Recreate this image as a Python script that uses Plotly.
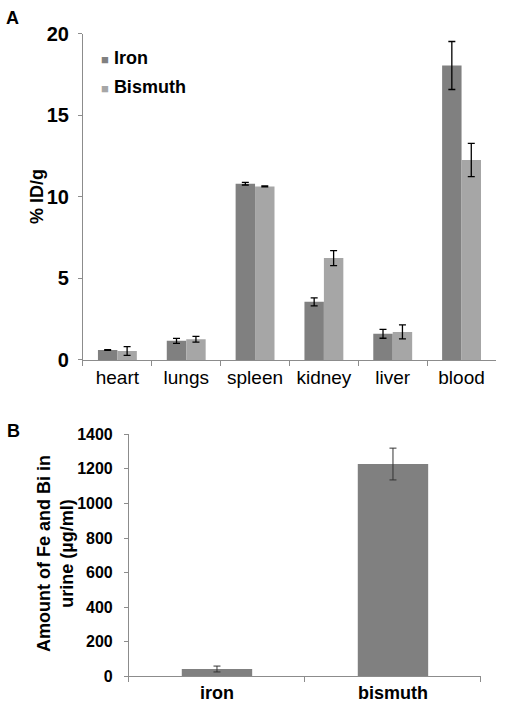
import plotly.graph_objects as go

# Panel A data
organs = ["heart", "lungs", "spleen", "kidney", "liver", "blood"]
iron_vals = [0.61, 1.17, 10.8, 3.56, 1.6, 18.04]
iron_err = [0.02, 0.15, 0.08, 0.25, 0.27, 1.47]
bismuth_vals = [0.55, 1.27, 10.63, 6.24, 1.72, 12.25]
bismuth_err = [0.27, 0.18, 0.03, 0.46, 0.43, 1.02]
a_yticks = [0, 5, 10, 15, 20]
series_names = ["Iron", "Bismuth"]

# Panel B data
urine_cats = ["iron", "bismuth"]
urine_vals = [42, 1228]
urine_err = [17, 92]
b_yticks = [0, 200, 400, 600, 800, 1000, 1200, 1400]

IRON_C = "#808080"
BI_C = "#a6a6a6"
AXC = "#8c8c8c"
FONT = "Arial, Liberation Sans, sans-serif"

fig = go.Figure()

fig.add_trace(go.Bar(
    x=organs, y=iron_vals, name=series_names[0], marker_color=IRON_C, marker_line_width=0,
    error_y=dict(type="data", array=iron_err, color="black", thickness=1.3, width=3.5),
    xaxis="x", yaxis="y", showlegend=False,
))
fig.add_trace(go.Bar(
    x=organs, y=bismuth_vals, name=series_names[1], marker_color=BI_C, marker_line_width=0,
    error_y=dict(type="data", array=bismuth_err, color="black", thickness=1.3, width=3.5),
    xaxis="x", yaxis="y", showlegend=False,
))
fig.add_trace(go.Bar(
    x=urine_cats, y=urine_vals, marker_color=IRON_C, marker_line_width=0, showlegend=False,
    width=0.4,
    error_y=dict(type="data", array=urine_err, color="#333333", thickness=1, width=3.5),
    xaxis="x2", yaxis="y2",
))

common = dict(showline=True, linecolor=AXC, linewidth=1, ticks="outside", tickcolor=AXC,
              showgrid=False, zeroline=False, automargin=False)

fig.update_layout(
    width=510, height=710,
    margin=dict(l=0, r=0, t=0, b=0, autoexpand=False),
    paper_bgcolor="white", plot_bgcolor="white",
    barmode="group", bargap=0.435, bargroupgap=0,
    font=dict(family=FONT, color="black"),
    showlegend=False,
    xaxis=dict(domain=[0.1627, 0.9725], anchor="y", tickson="boundaries", ticklen=5,
               tickfont=dict(size=19, family=FONT), **common),
    yaxis=dict(domain=[0.4930, 0.9528], anchor="x", range=[0, 20], tickvals=a_yticks,
               ticktext=[f"<b>{v}</b>" for v in a_yticks], ticklen=4,
               tickfont=dict(size=20, family=FONT), ticklabelstandoff=5, **common),
    xaxis2=dict(domain=[0.2529, 0.9431], anchor="y2", tickson="boundaries", ticklen=5,
                tickvals=urine_cats, ticktext=[f"<b>{c}</b>" for c in urine_cats],
                tickfont=dict(size=18, family=FONT), **common),
    yaxis2=dict(domain=[0.0475, 0.3883], anchor="x2", range=[0, 1400], tickvals=b_yticks,
                ticktext=[f"<b>{v}</b>" for v in b_yticks], ticklen=4,
                tickfont=dict(size=16, family=FONT), ticklabelstandoff=8, **common),
)

def px(x, y):
    return x / 510, 1 - y / 710

for txt, (x, y) in [("<b>A</b>", (12, 18)), ("<b>B</b>", (13, 431))]:
    ax, ay = px(x, y)
    fig.add_annotation(text=txt, x=ax, y=ay, xref="paper", yref="paper", showarrow=False,
                       xanchor="center", yanchor="middle", font=dict(size=18, family=FONT))

# legend (Excel-style, square key close to label)
for name, col, yy in [(series_names[0], IRON_C, 58), (series_names[1], BI_C, 87)]:
    ax, ay = px(99, yy)
    fig.add_annotation(
        text=f"<span style='color:{col};font-size:13px'>■</span> <b>{name}</b>",
        x=ax, y=ay, xref="paper", yref="paper", showarrow=False,
        xanchor="left", yanchor="middle", font=dict(size=18, family=FONT))

ax, ay = px(37, 197)
fig.add_annotation(text="<b>% ID/g</b>", x=ax, y=ay, xref="paper", yref="paper",
                   showarrow=False, textangle=-90, xanchor="center", yanchor="middle",
                   font=dict(size=18, family=FONT))
ax, ay = px(55, 554)
fig.add_annotation(text="<b>Amount of Fe and Bi in<br>urine (µg/ml)</b>", x=ax, y=ay,
                   xref="paper", yref="paper", showarrow=False, textangle=-90,
                   xanchor="center", yanchor="middle", font=dict(size=18, family=FONT))

fig.write_html("out.html", config={"displayModeBar": False},
               post_script="document.body.style.margin='0';document.body.style.overflow='hidden';")
